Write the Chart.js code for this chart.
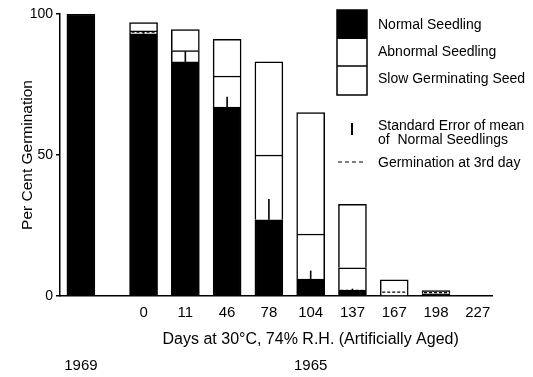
<!DOCTYPE html>
<html><head><meta charset="utf-8">
<script src="https://cdn.jsdelivr.net/npm/chart.js@4"></script>
<style>html,body{margin:0;padding:0;background:#fff}#wrap{width:533px;height:377px;position:relative}</style>
</head><body><div id="wrap"><canvas id="c" width="533" height="377"></canvas></div>
<script>
// ---- data ----
const categories = ["1969", "0", "11", "46", "78", "104", "137", "167", "198", "227"];
const normalSeedling   = [100, 93, 83, 67, 27, 6, 2, null, 0.8, null];
const abnormalSeedling = [null, 1, 4, 11, 23, 16, 8, null, null, null];
const slowGerminating  = [null, 3, 7.5, 13, 33, 43, 22.5, 5.7, 1.1, null];
const stdError         = [null, 1, 3.8, 3.7, 7.4, 3, 0.6, null, null, null];
const thirdDay         = [null, 93.6, null, null, null, null, 2, 1.4, 1.2, null];
const yTicks = [0, 50, 100];
const groupLabels = [{text: "1969", from: 0, to: 0}, {text: "1965", from: 1, to: 9}];
const xTitle = "Days at 30°C, 74% R.H. (Artificially Aged)";
const legendItems = ["Normal Seedling", "Abnormal Seedling", "Slow Germinating Seed"];
const seLegend = ["Standard Error of mean", "of  Normal Seedlings"];
const dashLegend = "Germination at 3rd day";

// layout: the 1969 bar sits apart from the aged series
const pos = i => (i === 0 ? 0 : i + 0.5);
const FONT = "'Liberation Sans', Arial, sans-serif";
const INK = '#000';
const BAR_W = 28;

const toXY = arr => arr.map((v, i) => ({x: pos(i), y: v}));

const overlay = {
  id: 'overlay',
  afterDatasetsDraw(chart) {
    const ctx = chart.ctx, xs = chart.scales.x, ys = chart.scales.y;
    ctx.save();
    ctx.strokeStyle = INK;
    ctx.lineWidth = 1.6;
    stdError.forEach((se, i) => {
      if (se == null) return;
      const x = xs.getPixelForValue(pos(i));
      const base = normalSeedling[i] || 0;
      ctx.beginPath();
      ctx.moveTo(x, ys.getPixelForValue(base));
      ctx.lineTo(x, ys.getPixelForValue(base + se));
      ctx.stroke();
    });
    ctx.lineWidth = 1.2;
    ctx.setLineDash([3, 2]);
    thirdDay.forEach((v, i) => {
      if (v == null) return;
      const x = xs.getPixelForValue(pos(i));
      const y = ys.getPixelForValue(v);
      ctx.beginPath();
      ctx.moveTo(x - BAR_W / 2 + 2, y);
      ctx.lineTo(x + BAR_W / 2 - 2, y);
      ctx.stroke();
    });
    ctx.setLineDash([]);
    ctx.restore();
  },
  afterDraw(chart) {
    const ctx = chart.ctx, xs = chart.scales.x;
    ctx.save();
    ctx.fillStyle = INK;
    ctx.textBaseline = 'middle';
    ctx.textAlign = 'center';
    // axis title centred under the aged (1965) series
    const g = groupLabels[1];
    const gx = (xs.getPixelForValue(pos(g.from)) + xs.getPixelForValue(pos(g.to))) / 2;
    ctx.font = '16px ' + FONT;
    ctx.fillText(xTitle, gx, 340);
    ctx.font = '15px ' + FONT;
    groupLabels.forEach(gl => {
      const x = (xs.getPixelForValue(pos(gl.from)) + xs.getPixelForValue(pos(gl.to))) / 2;
      ctx.fillText(gl.text, x, 366);
    });
    const bx = 337, bw = 30;
    ctx.lineWidth = 1.5;
    ctx.strokeStyle = INK;
    ctx.fillRect(bx, 10, bw, 29);
    ctx.strokeRect(bx, 10, bw, 85);
    ctx.beginPath(); ctx.moveTo(bx, 66); ctx.lineTo(bx + bw, 66); ctx.stroke();
    ctx.textAlign = 'left';
    ctx.font = '14px ' + FONT;
    const tx = 378;
    [25, 52, 79].forEach((y, k) => ctx.fillText(legendItems[k], tx, y));
    ctx.lineWidth = 2;
    ctx.beginPath(); ctx.moveTo(352, 123); ctx.lineTo(352, 135); ctx.stroke();
    ctx.fillText(seLegend[0], tx, 126);
    ctx.fillText(seLegend[1], tx, 140);
    ctx.lineWidth = 1.2;
    ctx.setLineDash([4, 3]);
    ctx.beginPath(); ctx.moveTo(338, 162); ctx.lineTo(366, 162); ctx.stroke();
    ctx.setLineDash([]);
    ctx.fillText(dashLegend, tx, 163);
    ctx.restore();
  }
};

const common = {borderColor: INK, borderWidth: 1.5, barThickness: BAR_W};

new Chart(document.getElementById('c'), {
  type: 'bar',
  data: {
    datasets: [
      Object.assign({label: legendItems[0], data: toXY(normalSeedling), backgroundColor: INK}, common),
      Object.assign({label: legendItems[1], data: toXY(abnormalSeedling), backgroundColor: '#fff'}, common),
      Object.assign({label: legendItems[2], data: toXY(slowGerminating), backgroundColor: '#fff'}, common)
    ]
  },
  options: {
    responsive: false,
    animation: false,
    layout: {padding: {top: 14, right: 41, left: 14, bottom: 26}},
    plugins: {legend: {display: false}, tooltip: {enabled: false}},
    scales: {
      x: {
        type: 'linear', stacked: true, offset: false, min: -0.5, max: 9.84,
        grid: {display: false, drawTicks: false, offset: false},
        border: {display: true, color: INK, width: 1.5},
        afterBuildTicks: s => { s.ticks = categories.slice(1).map((c, k) => ({value: pos(k + 1)})); },
        afterFit: s => { s.height = 55; },
        ticks: {
          autoSkip: false, maxRotation: 0, padding: 8, color: INK,
          font: {family: FONT, size: 15},
          callback: (v, idx) => categories[idx + 1]
        },
        title: {display: false}
      },
      y: {
        stacked: true, min: 0, max: 100,
        grid: {display: true, drawOnChartArea: false, drawTicks: true, tickLength: 4, color: INK, lineWidth: 1.5},
        border: {display: true, color: INK, width: 1.5},
        afterBuildTicks: s => { s.ticks = yTicks.map(v => ({value: v})); },
        afterFit: s => { s.width = 46; },
        ticks: {padding: 3, color: INK, font: {family: FONT, size: 14}},
        title: {display: true, text: 'Per Cent Germination', color: INK,
                font: {family: FONT, size: 15.5}, padding: {top: 4, bottom: 0}}
      }
    }
  },
  plugins: [overlay]
});
</script>
</body></html>
